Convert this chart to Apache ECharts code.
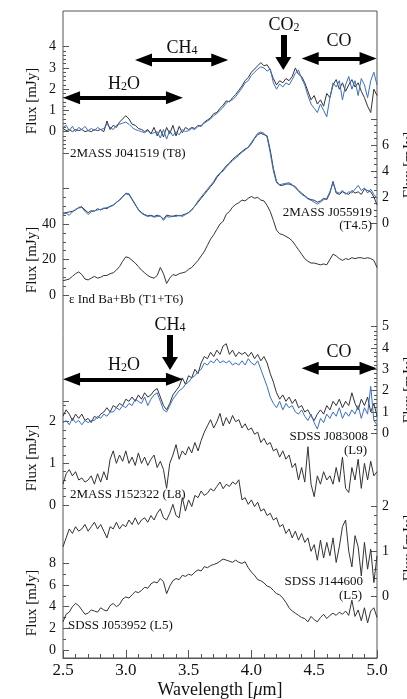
<!DOCTYPE html>
<html>
<head>
<meta charset="utf-8">
<script src="https://cdn.jsdelivr.net/npm/echarts@6/dist/echarts.min.js"></script>
<style>
  html, body { margin: 0; padding: 0; background: #fff; }
  #chart { width: 407px; height: 699px; }
</style>
</head>
<body>
<div id="chart"></div>
<script>
// wavelength grid (um)
const WAVE = [2.500,2.525,2.550,2.575,2.600,2.625,2.650,2.675,2.700,2.725,2.750,2.775,2.800,2.825,2.850,2.875,2.900,2.925,2.950,2.975,
  3.000,3.025,3.050,3.075,3.100,3.125,3.150,3.175,3.200,3.225,3.250,3.275,3.300,3.325,3.350,3.375,3.400,3.425,3.450,3.475,
  3.500,3.525,3.550,3.575,3.600,3.625,3.650,3.675,3.700,3.725,3.750,3.775,3.800,3.825,3.850,3.875,3.900,3.925,3.950,3.975,
  4.000,4.025,4.050,4.075,4.100,4.125,4.150,4.175,4.200,4.225,4.250,4.275,4.300,4.325,4.350,4.375,4.400,4.425,4.450,4.475,
  4.500,4.525,4.550,4.575,4.600,4.625,4.650,4.675,4.700,4.725,4.750,4.775,4.800,4.825,4.850,4.875,4.900,4.925,4.950,4.975,5.000];

// upper panel
const T8_BLACK = [0.15,0.05,0.1,0.0,0.1,0.05,0.1,0.0,0.05,0.0, 0.1,0.05,0.1,0.0,0.5,0.1,0.3,0.2,0.45,0.6,
  0.75,0.6,0.35,0.3,0.15,0.1,0.0,0.1,-0.1,0.2, -0.2,0.1,-0.25,0.2,-0.1,0.3,-0.2,0.25,-0.05,0.2,
  0.1,0.2,0.15,0.3,0.25,0.45,0.55,0.65,0.85,0.9, 1.1,1.25,1.45,1.4,1.6,1.75,1.95,2.15,2.4,2.55,
  2.8,2.95,3.1,3.25,3.1,3.15,2.9,2.5,2.2,2.4, 2.3,2.5,2.4,2.6,3.0,2.7,2.6,2.3,1.9,1.5,
  1.7,1.3,1.5,1.2,1.8,1.6,2.2,2.45,2.0,2.3, 1.9,2.2,2.45,2.1,2.3,1.9,1.6,1.2,0.9,2.0, 1.7];
const T8_BLUE = [0.2,0.3,0.05,0.25,0.0,0.2,0.1,0.25,0.05,0.15, 0.05,0.2,0.1,0.15,0.35,0.2,0.1,0.3,0.35,0.4,
  0.45,0.35,0.2,0.1,0.05,0.0,-0.05,0.05,-0.1,-0.05, 0.0,-0.3,0.1,-0.35,0.05,-0.2,0.0,-0.15,0.1,0.0,
  0.05,0.15,0.1,0.25,0.3,0.4,0.5,0.6,0.75,0.85, 1.0,1.15,1.35,1.45,1.5,1.65,1.85,2.05,2.3,2.4,
  2.65,2.8,2.95,3.05,3.0,2.85,2.95,2.3,2.0,2.25, 2.1,2.3,2.2,2.45,2.75,2.9,2.5,2.2,1.7,1.3,
  1.1,0.9,1.3,1.0,0.7,1.6,2.3,2.1,2.4,1.5, 2.2,2.6,2.0,2.4,1.7,2.5,2.2,1.6,2.4,2.8, 2.2];
const T45_BLACK = [0.75,0.8,0.85,0.9,1.0,1.2,1.25,1.0,0.8,0.95, 0.9,1.1,1.0,1.15,1.1,1.3,1.35,1.6,1.75,2.05,
  2.25,2.2,1.8,1.4,1.05,0.8,0.65,0.55,0.6,0.5, 0.6,0.5,0.3,0.6,0.55,0.5,0.6,0.55,0.6,0.7,
  0.8,1.0,1.3,1.6,1.9,2.2,2.5,2.8,3.1,3.5, 3.8,4.1,4.4,4.6,4.9,5.1,5.3,5.5,5.7,5.8,
  6.1,6.5,6.8,6.9,6.8,6.7,5.6,4.2,3.2,2.9, 2.9,3.0,3.0,2.9,2.8,2.5,2.3,2.1,1.9,1.8,
  1.75,1.6,1.7,1.9,1.8,2.3,3.2,2.3,2.2,2.4, 2.3,2.2,2.5,2.3,2.4,2.2,2.6,2.5,2.4,2.0, 1.4];
const T45_BLUE = [0.7,0.75,0.6,0.85,1.05,1.15,1.2,0.9,0.65,0.85, 0.95,1.0,1.05,1.1,1.2,1.25,1.4,1.55,1.8,2.0,
  2.3,2.25,1.85,1.45,1.0,0.75,0.6,0.5,0.55,0.45, 0.5,0.55,0.2,0.5,0.45,0.55,0.5,0.6,0.5,0.65,
  0.8,1.05,1.3,1.7,2.0,2.3,2.6,2.9,3.2,3.6, 3.85,4.0,4.3,4.55,4.8,5.0,5.2,5.45,5.6,5.85,
  6.2,6.55,6.9,7.0,6.9,6.6,5.4,4.0,3.1,2.95, 3.0,3.05,3.1,2.95,2.7,2.45,2.2,2.05,1.85,1.75,
  1.6,1.45,1.6,1.8,1.9,2.4,3.1,2.4,2.3,2.5, 2.2,2.4,2.3,2.6,2.9,2.5,2.7,2.3,2.6,2.2, 1.9];
const EPS_IND = [8.0,8.5,9.0,10.5,12.0,13.0,11.5,9.0,8.5,9.5, 10.5,9.5,10.0,11.0,11.0,12.0,12.5,14.0,16.0,19.0,
  21.5,21.0,19.5,18.0,16.0,14.0,12.5,11.0,10.0,9.5, 11.0,15.5,12.0,6.5,9.5,11.5,11.0,12.0,12.5,13.0,
  14.5,15.5,17.5,19.5,22.0,24.5,28.0,31.5,34.0,37.0, 40.0,41.5,45.5,47.0,49.5,51.0,52.0,53.5,53.0,54.5,
  55.5,54.5,55.0,53.5,53.0,50.5,47.0,42.0,36.5,34.5, 34.0,33.0,32.0,30.5,28.0,25.5,23.0,20.5,19.0,18.0,
  18.0,17.5,17.0,17.5,17.0,20.0,23.0,22.0,20.5,19.5, 20.5,20.0,21.0,20.5,21.0,21.0,20.5,21.0,20.5,19.5, 15.5];

// lower panel
const L9_BLACK = [0.8,1.1,0.9,0.6,0.9,0.7,0.9,0.6,0.7,0.5, 0.8,0.7,0.9,1.0,1.2,1.0,1.3,1.2,1.4,1.3,
  1.6,1.5,1.7,1.5,1.8,1.6,1.9,1.7,1.8,2.0, 2.1,1.7,1.3,1.1,1.4,1.8,2.0,2.2,2.6,2.3,
  2.7,2.6,3.0,2.8,3.3,3.6,3.5,3.8,3.6,3.9, 3.7,4.1,4.2,3.7,3.9,3.6,3.8,3.7,3.8,3.6,
  3.8,3.5,3.7,3.4,3.6,3.3,2.8,2.4,1.9,1.6, 1.8,1.5,1.7,1.4,1.6,1.2,1.3,1.0,1.1,0.8,
  0.6,0.9,1.1,0.9,1.3,1.1,1.5,1.3,1.6,1.2, 1.5,1.3,1.9,1.4,1.1,1.6,1.3,1.7,1.0,1.4, 0.8];
const L9_BLUE = [0.5,0.6,0.4,0.7,0.5,0.6,0.4,0.6,0.5,0.6, 0.6,0.8,0.7,0.9,0.8,1.0,1.0,1.2,1.1,1.3,
  1.2,1.4,1.3,1.6,1.5,1.4,1.7,1.3,1.6,1.8, 1.9,1.5,1.1,1.0,1.3,1.6,1.8,2.0,2.1,2.3,
  2.4,2.6,2.7,2.9,3.0,3.3,3.2,3.4,3.3,3.5, 3.3,3.4,3.3,3.4,3.2,3.3,3.2,3.4,3.2,3.5,
  3.3,3.2,3.4,3.0,2.6,2.2,1.7,1.4,1.2,1.5, 1.1,1.4,1.2,1.3,1.0,0.9,1.1,0.8,0.6,0.9,
  0.5,0.2,0.7,0.5,0.9,0.7,1.0,0.8,1.2,0.7, 1.0,0.8,1.1,0.9,1.3,0.7,1.2,0.9,2.2,0.6, 0.4];
const L8 = [0.5,0.75,0.85,0.7,0.8,0.6,0.65,0.55,0.6,0.7, 0.5,0.75,0.55,0.8,0.6,1.1,1.3,1.0,1.2,1.05,
  1.3,1.0,1.15,0.95,1.25,1.0,1.15,0.95,1.1,1.2, 0.9,1.05,0.85,0.4,1.0,1.2,1.45,1.1,1.3,1.2,
  1.4,1.25,1.5,1.3,1.55,1.75,1.9,2.05,1.85,2.0, 2.2,1.9,2.1,1.95,2.15,2.0,2.05,1.85,1.95,1.8,
  1.85,1.7,1.75,1.5,1.6,1.45,1.5,1.3,1.35,1.15, 1.3,1.1,1.2,0.9,1.0,0.6,0.9,0.55,1.4,0.5,
  0.2,0.7,0.5,0.8,0.6,0.7,0.5,0.9,0.55,1.15, 0.4,0.3,0.9,0.6,1.1,0.4,1.0,0.6,1.05,0.7, 0.8];
const J1446 = [1.1,1.3,1.5,1.4,1.55,1.45,1.5,1.6,1.45,1.55, 1.65,1.5,1.6,1.45,1.3,1.55,1.5,1.65,1.5,1.6,
  1.55,1.7,1.6,1.75,1.6,1.7,1.75,1.65,1.8,1.7, 1.85,1.95,1.75,1.7,1.85,2.05,1.8,1.75,2.2,1.9,
  2.15,2.0,2.25,2.2,2.35,2.25,2.3,2.4,2.35,2.45, 2.55,2.4,2.5,2.45,2.55,2.5,2.6,2.15,2.2,2.05,
  2.15,2.0,2.1,1.9,1.95,1.8,1.85,1.7,1.75,1.55, 1.6,1.4,1.5,1.3,1.45,1.25,1.4,1.2,1.3,1.0,
  1.15,0.8,1.25,0.85,1.2,0.9,1.3,0.75,1.1,1.55, 1.7,1.0,0.65,1.35,1.1,0.45,1.2,0.6,1.05,0.3, 0.9];
const J0539 = [2.6,3.3,3.5,4.0,4.3,4.1,3.7,3.3,3.4,3.7, 3.6,3.5,3.9,3.7,3.6,4.1,4.3,4.0,4.2,4.7,
  4.9,4.8,5.1,5.4,5.3,5.5,5.8,5.7,6.1,6.3, 6.2,6.6,6.3,5.2,5.9,6.4,6.6,6.5,6.9,6.8,
  7.0,6.9,7.2,7.4,7.3,7.7,7.6,7.8,7.9,8.0, 8.2,8.4,8.3,8.2,8.1,8.3,8.1,8.0,8.15,7.6,
  7.2,6.9,6.5,6.4,6.2,5.9,5.8,5.5,5.2,5.1, 4.8,4.4,3.9,3.6,3.4,3.2,3.0,2.9,2.6,3.1,
  2.8,2.6,3.0,3.3,2.9,3.2,3.4,3.2,3.5,3.3, 3.6,3.2,4.6,3.1,3.7,2.7,3.9,2.5,3.6,3.9, 3.0];

const FONT = 'Liberation Serif';
const BLACK = '#333';
const BLUE = '#3a6ec8';
const GL = 63, GW = 314;

// one sub-axis per spectrum, stacked on the same wavelength scale
const SUB = [
  { top: 46.7, height: 106.2, min: -1, max: 4, interval: 1, pos: 'left', minor: 5, hide: [-1] },
  { top: 119, height: 104, min: 0, max: 8, interval: 2, pos: 'right', minor: 4, hide: [8] },
  { top: 188.5, height: 106.5, min: 0, max: 60, interval: 20, pos: 'left', minor: 4, hide: [60] },
  { top: 326.7, height: 106.6, min: 0, max: 5, interval: 1, pos: 'right', minor: 5, hide: [] },
  { top: 400.9, height: 104.1, min: 0, max: 2.5, interval: 1, pos: 'left', minor: 5, hide: [2.5] },
  { top: 506.6, height: 89.4, min: 0, max: 2, interval: 1, pos: 'right', minor: 5, hide: [] },
  { top: 563.4, height: 86.6, min: 0, max: 8, interval: 2, pos: 'left', minor: 2, hide: [] }
];
// hidden full-height axes for the arrows: same scale as the T8 axis (upper) and the L9 axis (lower)
const ANNOT = [
  { top: 11, height: 307, min: -8.767, max: 5.68 },
  { top: 318, height: 340, min: -10.53, max: 5.405 }
];

function pairs(ys) {
  return WAVE.map((w, i) => [w, ys[i]]);
}

const grids = [{ left: GL, width: GW, top: 11, height: 647, show: true, borderColor: '#555', borderWidth: 1, outerBoundsMode: 'none' }];
const xAxes = [{
  type: 'value', gridIndex: 0, min: 2.5, max: 5.0, interval: 0.5,
  axisLine: { show: true, lineStyle: { color: '#555' } },
  axisTick: { inside: true, length: 8, lineStyle: { color: '#555' } },
  minorTick: { show: true, splitNumber: 5, length: 4, lineStyle: { color: '#555' } },
  splitLine: { show: false },
  axisLabel: { fontFamily: FONT, fontSize: 17, color: '#111', margin: 4, formatter: v => v.toFixed(1) }
}];
const yAxes = [{ type: 'value', gridIndex: 0, show: false, min: 0, max: 1 }];

SUB.forEach((s, k) => {
  grids.push({ left: GL, width: GW, top: s.top, height: s.height, outerBoundsMode: 'none' });
  xAxes.push({ type: 'value', gridIndex: k + 1, min: 2.5, max: 5.0, show: false });
  yAxes.push({
    type: 'value', gridIndex: k + 1, position: s.pos, min: s.min, max: s.max, interval: s.interval,
    axisLine: { show: false },
    axisTick: { show: true, inside: true, length: 6, lineStyle: { color: '#555' } },
    minorTick: { show: true, splitNumber: s.minor, length: 3, lineStyle: { color: '#555' } },
    splitLine: { show: false },
    axisLabel: {
      fontFamily: FONT, fontSize: 14, color: '#111', margin: s.pos === 'left' ? 7 : 5,
      formatter: v => (s.hide.indexOf(v) >= 0 ? '' : String(v))
    }
  });
});
ANNOT.forEach(a => {
  const g = grids.length;
  grids.push({ left: GL, width: GW, top: a.top, height: a.height, outerBoundsMode: 'none' });
  xAxes.push({ type: 'value', gridIndex: g, min: 2.5, max: 5.0, show: false });
  yAxes.push({ type: 'value', gridIndex: g, min: a.min, max: a.max, show: false });
});

function spec(idx, ys, color) {
  return {
    type: 'line', xAxisIndex: idx, yAxisIndex: idx, data: pairs(ys),
    showSymbol: false, symbol: 'none', clip: false, silent: true,
    lineStyle: { width: 1, color: color }
  };
}

const HEAD = [13, 17];
function dbl(x1, x2, y) {
  return [
    { coord: [x1, y], symbol: 'triangle', symbolSize: HEAD },
    { coord: [x2, y], symbol: 'triangle', symbolSize: HEAD }
  ];
}
function down(x, y1, y2) {
  return [
    { coord: [x, y1], symbol: 'none', lineStyle: { width: 6, color: '#000' } },
    { coord: [x, y2], symbol: 'triangle', symbolSize: [16, 13], lineStyle: { width: 6, color: '#000' } }
  ];
}
function arrows(idx, items) {
  return {
    type: 'line', xAxisIndex: idx, yAxisIndex: idx, data: [], silent: true,
    markLine: {
      silent: true, animation: false, label: { show: false }, symbol: ['none', 'none'],
      lineStyle: { color: '#000', width: 4, type: 'solid' },
      data: items
    }
  };
}

const series = [
  spec(1, T8_BLACK, BLACK),
  spec(1, T8_BLUE, BLUE),
  spec(2, T45_BLACK, BLACK),
  spec(2, T45_BLUE, BLUE),
  spec(3, EPS_IND, BLACK),
  spec(4, L9_BLACK, BLACK),
  spec(4, L9_BLUE, BLUE),
  spec(5, L8, BLACK),
  spec(6, J1446, BLACK),
  spec(7, J0539, BLACK),
  arrows(8, [dbl(2.568, 3.387, 1.6), dbl(3.141, 3.748, 3.37), dbl(4.468, 4.929, 3.45), down(4.254, 4.55, 3.21)]),
  arrows(9, [dbl(2.568, 3.387, 2.53), dbl(4.468, 4.929, 3.05), down(3.352, 4.61, 3.27)])
];

function txt(x, y, text, size, align, extra) {
  return {
    type: 'text', x: x, y: y, silent: true,
    style: Object.assign({
      text: text, fontFamily: FONT, fontSize: size, fill: '#111',
      align: align || 'center', verticalAlign: 'middle'
    }, extra || {})
  };
}
const SUBS = { s: { fontSize: 12, fontFamily: FONT, verticalAlign: 'bottom', lineHeight: 12 } };
function mol(x, y, text) {
  return txt(x, y, text, 18, 'center', { rich: SUBS });
}
function ylab(x, y) {
  const t = txt(x, y, 'Flux [mJy]', 15, 'center');
  t.rotation = Math.PI / 2;
  return t;
}

const graphics = [
  mol(124, 84, 'H{s|2}O'), mol(182, 48, 'CH{s|4}'), mol(284, 25, 'CO{s|2}'), mol(339, 41, 'CO'),
  mol(124, 365, 'H{s|2}O'), mol(170, 325, 'CH{s|4}'), mol(339, 352, 'CO'),
  txt(70, 154, '2MASS J041519 (T8)', 13, 'left'),
  txt(372, 213, '2MASS J055919', 13, 'right'),
  txt(372, 226, '(T4.5)', 13, 'right'),
  txt(69, 300, '\u03b5 Ind Ba+Bb (T1+T6)', 13, 'left'),
  txt(368, 437, 'SDSS J083008', 13, 'right'),
  txt(367, 451, '(L9)', 13, 'right'),
  txt(70, 495, '2MASS J152322 (L8)', 13, 'left'),
  txt(363, 582, 'SDSS J144600', 13, 'right'),
  txt(362, 596, '(L5)', 13, 'right'),
  txt(68, 626, 'SDSS J053952 (L5)', 13, 'left'),
  ylab(32, 101), ylab(32, 260), ylab(32, 458), ylab(32, 603),
  ylab(409, 165), ylab(409, 390), ylab(409, 548),
  txt(220, 690, 'Wavelength [{i|\u03bc}m]', 18, 'center', { rich: { i: { fontSize: 18, fontFamily: FONT, fontStyle: 'italic' } } })
];

const chart = echarts.init(document.getElementById('chart'), null, { renderer: 'canvas' });
chart.setOption({
  animation: false,
  backgroundColor: '#fff',
  grid: grids,
  xAxis: xAxes,
  yAxis: yAxes,
  series: series,
  graphic: graphics
});
</script>
</body>
</html>
